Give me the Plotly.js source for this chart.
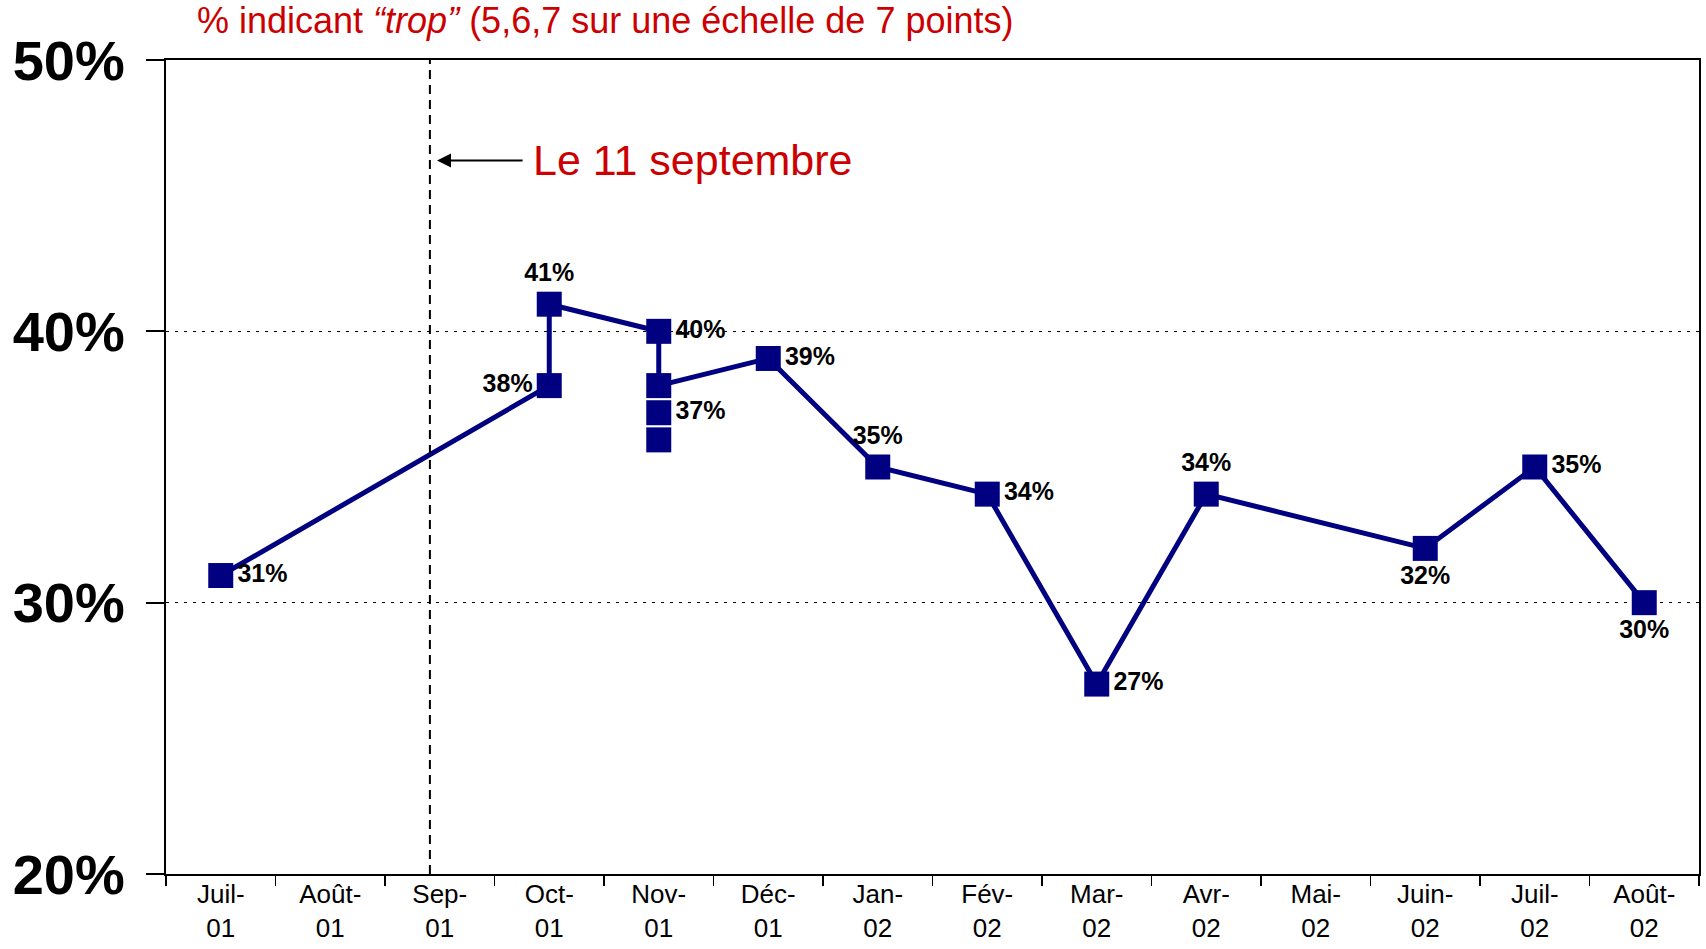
<!DOCTYPE html>
<html>
<head>
<meta charset="utf-8">
<script src="https://cdn.plot.ly/plotly-3.0.1.min.js"></script>
<style>html,body{margin:0;padding:0;background:#fff;}#chart{width:1706px;height:949px;}</style>
</head>
<body>
<div id="chart"></div>
<script>
// Categories (months) and tick labels
const months = ['Juil-01','Août-01','Sep-01','Oct-01','Nov-01','Déc-01','Jan-02','Fév-02','Mar-02','Avr-02','Mai-02','Juin-02','Juil-02','Août-02'];
const tickLabels = ['Juil-<br>01','Août-<br>01','Sep-<br>01','Oct-<br>01','Nov-<br>01','Déc-<br>01','Jan-<br>02','Fév-<br>02','Mar-<br>02','Avr-<br>02','Mai-<br>02','Juin-<br>02','Juil-<br>02','Août-<br>02'];
const yTickVals = [20, 30, 40, 50];
const yTickLabels = ['20%', '30%', '40%', '50%'];

// Main connected series
const lineX = ['Juil-01','Oct-01','Oct-01','Nov-01','Nov-01','Déc-01','Jan-02','Fév-02','Mar-02','Avr-02','Juin-02','Juil-02','Août-02'];
const lineY = [31, 38, 41, 40, 38, 39, 35, 34, 27, 34, 32, 35, 30];
const lineLabels = ['31%','38%','41%','40%','','39%','35%','34%','27%','34%','32%','35%','30%'];
const linePos = ['middle right','middle left','top center','middle right','middle right','middle right','top center','middle right','middle right','top center','bottom center','middle right','bottom center'];

// Extra unconnected points (Nov-01)
const extraX = ['Nov-01','Nov-01'];
const extraY = [37, 36];
const extraLabels = ['37%',''];

const navy = '#000080';
const red = '#CC0000';

const labelFont = {family: 'Liberation Sans, Arial, sans-serif', size: 25, color: '#000', weight: 'bold'};

const traces = [
  {
    x: lineX, y: lineY, type: 'scatter', mode: 'lines+markers+text',
    line: {color: navy, width: 5},
    marker: {symbol: 'square', size: 25, color: navy},
    text: lineLabels.map(t => t ? '<b>' + t + '</b>' : ''),
    textposition: linePos,
    textfont: labelFont,
    cliponaxis: false,
    hoverinfo: 'x+y'
  },
  {
    x: extraX, y: extraY, type: 'scatter', mode: 'markers+text',
    marker: {symbol: 'square', size: 25, color: navy},
    text: extraLabels.map(t => t ? '<b>' + t + '</b>' : ''),
    textposition: 'middle right',
    textfont: labelFont,
    cliponaxis: false,
    hoverinfo: 'x+y'
  }
];

const layout = {
  width: 1706, height: 949,
  margin: {l: 166, r: 7, t: 60, b: 75},
  paper_bgcolor: '#fff', plot_bgcolor: '#fff',
  showlegend: false,
  xaxis: {
    type: 'category',
    categoryorder: 'array', categoryarray: months,
    tickmode: 'array', tickvals: months, ticktext: tickLabels,
    range: [-0.5, 13.5],
    tickson: 'boundaries',
    ticks: 'outside', ticklen: 10, tickwidth: 1.5, tickcolor: '#000',
    ticklabelstandoff: -4,
    showline: true, linecolor: '#000', linewidth: 2, mirror: true,
    showgrid: false, zeroline: false,
    tickfont: {family: 'Liberation Sans, Arial, sans-serif', size: 26, color: '#000'},
    fixedrange: true
  },
  yaxis: {
    range: [20, 50],
    tickmode: 'array', tickvals: yTickVals, ticktext: yTickLabels,
    ticks: 'outside', ticklen: 18, tickwidth: 2, tickcolor: '#000',
    ticklabelstandoff: 10,
    showline: true, linecolor: '#000', linewidth: 2, mirror: true,
    showgrid: true, gridcolor: '#000', gridwidth: 1.5, griddash: '3px,6px',
    zeroline: false,
    tickfont: {family: 'Liberation Sans, Arial, sans-serif', size: 56, color: '#000', weight: 'bold'},
    fixedrange: true
  },
  shapes: [
    {type: 'line', xref: 'x', yref: 'y', x0: 1.91, x1: 1.91, y0: 20, y1: 50,
     line: {color: '#000', width: 2, dash: '9px,6px'}}
  ],
  annotations: [
    {xref: 'paper', yref: 'paper', x: 0.019, y: 1.048, xanchor: 'left', yanchor: 'middle',
     text: '% indicant <i>“trop”</i> (5,6,7 sur une échelle de 7 points)', showarrow: false,
     font: {family: 'Liberation Sans, Arial, sans-serif', size: 36, color: red}},
    {xref: 'x', yref: 'y', axref: 'x', ayref: 'y', x: 1.975, y: 46.3, ax: 2.77, ay: 46.3,
     text: '', showarrow: true, arrowhead: 2, arrowsize: 1.4, arrowwidth: 2, arrowcolor: '#000'},
    {xref: 'x', yref: 'y', x: 2.83, y: 46.3, xanchor: 'left', yanchor: 'middle',
     text: 'Le 11 septembre', showarrow: false,
     font: {family: 'Liberation Sans, Arial, sans-serif', size: 43, color: red}}
  ]
};

Plotly.newPlot('chart', traces, layout, {displayModeBar: false, staticPlot: true});
</script>
</body>
</html>
